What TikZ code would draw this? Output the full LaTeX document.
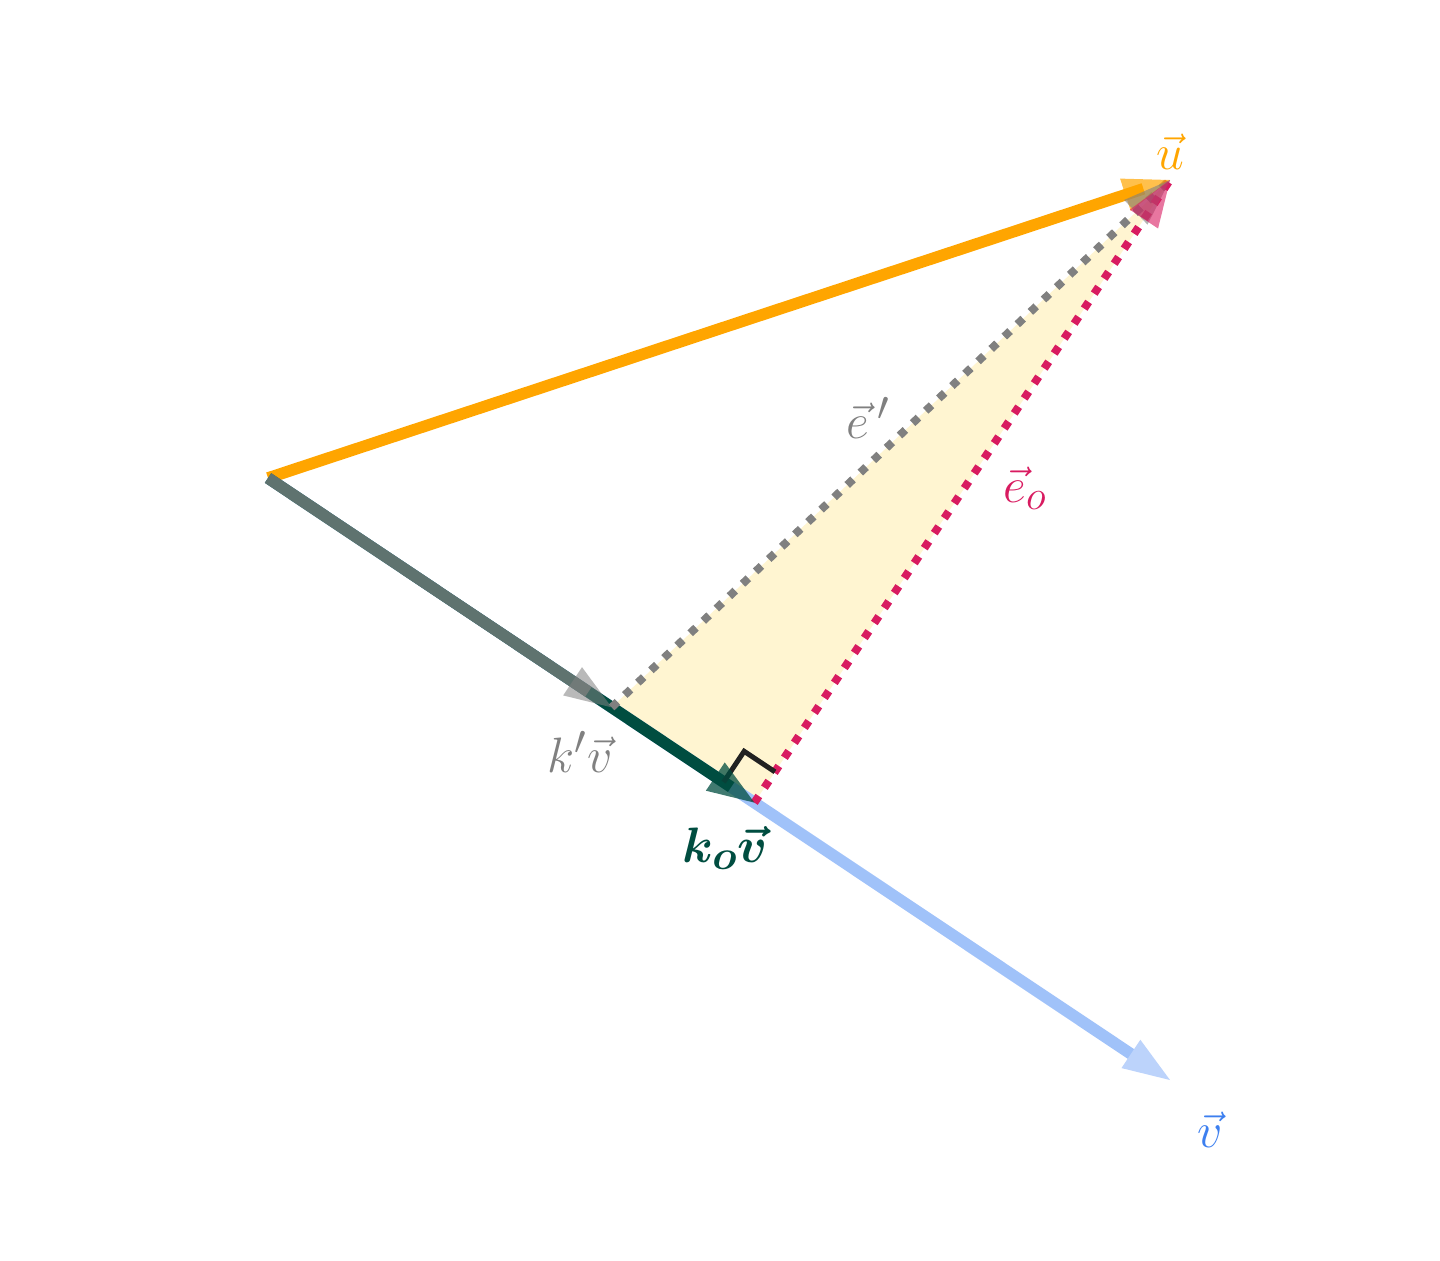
\documentclass[tikz,border=0pt]{standalone}
\usepackage{amsmath,bm}
\usetikzlibrary{calc}
\definecolor{uorange}{HTML}{FFA500}
\definecolor{egrey}{HTML}{808080}
\definecolor{crim}{HTML}{D81B60}
\definecolor{dgreen}{HTML}{004D40}
\definecolor{vline}{HTML}{A0C2F9}
\definecolor{vhead}{HTML}{BCD3FB}
\definecolor{vlab}{HTML}{3D7FEF}
\definecolor{tri}{HTML}{FFF5D1}
\newcommand\vechead[4]{\fill[#1,opacity=#2] (#3) -- ($(#3)!23.5pt!(#4)!8.5pt!90:(#3)$) -- ($(#3)!23.5pt!(#4)!8.5pt!-90:(#3)$) -- cycle;}
\tikzset{
  vec/.style={line width=5.8pt},
  dotv/.style={line width=4pt,dash pattern=on 4pt off 5pt},
  lab/.style={font=\fontsize{29}{35}\selectfont,inner sep=0pt}
}
\begin{document}
\begin{tikzpicture}[x=0.5pt,y=-0.5pt]
\useasboundingbox (0,0) rectangle (1440,1260);
\coordinate (O) at (268,478);
\coordinate (U) at (1170,180);
\coordinate (V) at (1170,1080);
\coordinate (K) at ($(O)!0.381!(V)$);
\coordinate (F) at ($(O)!(U)!(V)$);
\coordinate (RA) at ($(F)!18.5pt!(O)$);
\coordinate (RB) at ($(F)!18.5pt!(U)$);
\coordinate (RC) at ($(RA)+(RB)-(F)$);
% fill
\fill[tri] (K) -- (F) -- (U) -- cycle;
% v
\draw[vec,vline,shorten >=18pt] (O) -- (V);
% u
\draw[vec,uorange,shorten >=14pt] (O) -- (U);
% k_o v
\draw[vec,dgreen,shorten >=14pt] (O) -- (F);
% k' v
\draw[vec,egrey,opacity=0.75,shorten >=14pt] (O) -- (K);
% dotted
\draw[dotv,egrey] (K) -- (U);
\draw[dotv,crim] (F) -- (U);
% right angle
\draw[line width=2.5pt,black!87] (RA) -- (RC) -- (RB);
% heads
\vechead{vhead}{1}{V}{O}
\vechead{egrey}{0.55}{K}{O}
\vechead{dgreen}{0.75}{F}{O}
\vechead{uorange}{0.7}{U}{O}
\vechead{egrey}{0.6}{U}{K}
\vechead{crim}{0.6}{U}{F}
% labels
\node[lab,text=uorange] (lu) at (1170,152) {$\vec{u}$};
\node[lab,text=egrey] (le) at (868,418) {$\vec{e}\,'$};
\node[lab,text=crim] (leo) at (1025,488) {$\vec{e}_o$};
\node[lab,text=egrey] (lk) at (580,752) {$k'\vec{v}$};
\node[lab,text=dgreen] (lko) at (725,848) {$\bm{k}_{\bm{o}}\bm{\vec{v}}$};
\node[lab,text=vlab] (lv) at (1210,1130) {$\vec{v}$};
\end{tikzpicture}
\end{document}
